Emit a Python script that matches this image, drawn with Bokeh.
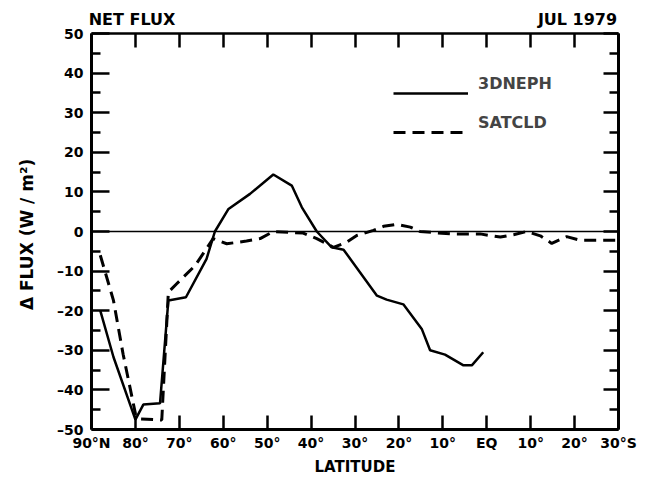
from bokeh.plotting import figure
from bokeh.models import (Range1d, FixedTicker, LinearAxis, Span,
                          Legend, LegendItem, CustomLabelingPolicy)
from bokeh.embed import file_html
from bokeh.resources import INLINE

# ---- data (latitude: + north, - south) ----
lat_3dneph = [88, 85, 80, 78.2, 74.4, 72.5, 68.5, 63.8, 61.9, 58.8, 53.9,
              48.6, 44.4, 42.1, 38.7, 35.3, 32.6, 25, 22.8, 19, 14.8, 12.9,
              9.5, 5.3, 3.4, 0.8]
flux_3dneph = [-20, -31.7, -47.5, -43.7, -43.4, -17.4, -16.6, -6.9, 0, 5.7,
               9.5, 14.4, 11.6, 6.1, 0, -4.0, -4.6, -16.2, -17.2, -18.4,
               -24.6, -30, -31.1, -33.8, -33.8, -30.5]

lat_satcld = [88, 85, 82.8, 80, 79.3, 74, 72.5, 70.6, 66.4, 64.1, 62.3,
              59.2, 54.7, 51.6, 48.6, 41.8, 38.7, 34.9, 31.9, 29.6, 25.8,
              23.5, 20.5, 17.4, 15.2, 8.3, 1.5, -0.6, -3.1, -6.1, -9.1,
              -12.2, -14.8, -18.2, -21.3, -27.4, -30]
flux_satcld = [-6, -17.4, -31, -46, -47.3, -47.6, -15.3, -13.2, -8.6, -4.8,
               -1.8, -3.1, -2.4, -1.8, 0, -0.4, -1.8, -4, -2.7, -1, 0.3,
               1.3, 1.8, 1.1, 0, -0.6, -0.6, -1, -1.4, -0.8, 0, -1.1, -3,
               -1.3, -2.2, -2.2, -2.2]

x_ticks = [90, 80, 70, 60, 50, 40, 30, 20, 10, 0, -10, -20, -30]
x_tick_labels = ["90°N", "80°", "70°", "60°", "50°", "40°", "30°", "20°",
                 "10°", "EQ", "10°", "20°", "30°S"]
y_ticks = [-50, -40, -30, -20, -10, 0, 10, 20, 30, 40, 50]
y_tick_labels = ["–50", "–40", "–30", "–20", "–10", "0", "10", "20", "30",
                 "40", "50"]
y_minor = [-45, -35, -25, -15, -5, 5, 15, 25, 35, 45]

header_left = "NET FLUX"
header_right = "JUL 1979"

FONT = "DejaVu Sans"
W, H = 658, 478
FL, FR = 91, 618          # frame left / right in px


def px_to_lat(px):
    return 90 - (px - FL) * 120.0 / (FR - FL)


p = figure(width=W, height=H, x_range=Range1d(90, -30),
           y_range=Range1d(-50, 50), output_backend="svg",
           toolbar_location=None, x_axis_location=None, y_axis_location=None,
           min_border_left=FL, min_border_right=W - FR, min_border_top=33,
           min_border_bottom=49)
p.outline_line_color = None
p.background_fill_color = "white"
p.border_fill_color = "white"
p.grid.visible = False

hide_all = CustomLabelingPolicy(
    code="for (const i of Array.from(indices)) { indices.unset(i) }\nreturn indices")


def style_axis(ax, lw, tin, minor_in):
    ax.axis_line_width = lw
    ax.axis_line_color = "black"
    ax.major_tick_line_width = 2.5
    ax.minor_tick_line_width = 2.5
    ax.major_tick_in = tin
    ax.major_tick_out = 0
    ax.minor_tick_in = minor_in
    ax.minor_tick_out = 0
    ax.major_label_text_font = FONT
    ax.major_label_text_font_style = "bold"
    ax.major_label_text_font_size = "14px"
    ax.major_label_text_color = "black"
    ax.axis_label_text_font = FONT
    ax.axis_label_text_font_style = "bold"
    ax.axis_label_text_font_size = "15px"
    ax.axis_label_text_color = "black"


# left axis
left = LinearAxis(ticker=FixedTicker(ticks=y_ticks, minor_ticks=y_minor),
                  major_label_overrides=dict(zip(y_ticks, y_tick_labels)),
                  axis_label="Δ FLUX  (W / m²)")
style_axis(left, 3, 18, 9)
left.major_label_standoff = 8
left.axis_label_standoff = 17
left.axis_label_text_font_size = "17px"
p.add_layout(left, "left")

# right axis (ticks only)
right = LinearAxis(ticker=FixedTicker(ticks=y_ticks, minor_ticks=y_minor),
                   major_label_policy=hide_all)
style_axis(right, 3, 15, 9)
right.major_label_text_font_size = "1px"
right.major_label_standoff = 0
p.add_layout(right, "right")

# bottom axis
bottom = LinearAxis(ticker=FixedTicker(ticks=x_ticks, minor_ticks=[]),
                    major_label_overrides=dict(zip(x_ticks, x_tick_labels)),
                    axis_label="LATITUDE")
style_axis(bottom, 3, 14, 0)
bottom.major_label_standoff = 5
bottom.axis_label_standoff = 4
p.add_layout(bottom, "below")

# top axis (ticks only) -- added first so it sits against the frame
top = LinearAxis(ticker=FixedTicker(ticks=x_ticks, minor_ticks=[]),
                 major_label_policy=hide_all)
style_axis(top, 2.5, 14, 0)
top.major_label_text_font_size = "1px"
top.major_label_standoff = 0
p.add_layout(top, "above")

# header row above the frame: "NET FLUX" (left) and "JUL 1979" (right)
hdr_pos = [px_to_lat(131.5), px_to_lat(577)]
header = LinearAxis(ticker=FixedTicker(ticks=hdr_pos, minor_ticks=[]),
                    major_label_overrides={hdr_pos[0]: header_left,
                                           hdr_pos[1]: header_right})
style_axis(header, 0, 0, 0)
header.axis_line_color = None
header.major_tick_line_color = None
header.minor_tick_line_color = None
header.major_label_text_font_size = "16px"
header.major_label_standoff = 1
p.add_layout(header, "above")

# zero line
p.add_layout(Span(location=0, dimension="width", line_color="black",
                  line_width=1.5))

r1 = p.line(lat_3dneph, flux_3dneph, line_color="black", line_width=2.5)
r2 = p.line(lat_satcld, flux_satcld, line_color="black", line_width=3,
            line_dash="12 7")


def make_legend(label, renderer, loc):
    # a blank second line lifts the label above its sample line
    lg = Legend(items=[LegendItem(label=label + "\n ", renderers=[renderer])],
                location=loc)
    lg.border_line_color = None
    lg.background_fill_alpha = 0
    lg.padding = 0
    lg.margin = 0
    lg.spacing = 0
    lg.glyph_width = 75
    lg.glyph_height = 20
    lg.label_height = 20
    lg.label_standoff = 10
    lg.label_text_font = FONT
    lg.label_text_font_style = "bold"
    lg.label_text_font_size = "16px"
    return lg


p.add_layout(make_legend("3DNEPH", r1, (302, 317)))
p.add_layout(make_legend("SATCLD", r2, (302, 278)))

open("out.html", "w").write(file_html(p, INLINE))
